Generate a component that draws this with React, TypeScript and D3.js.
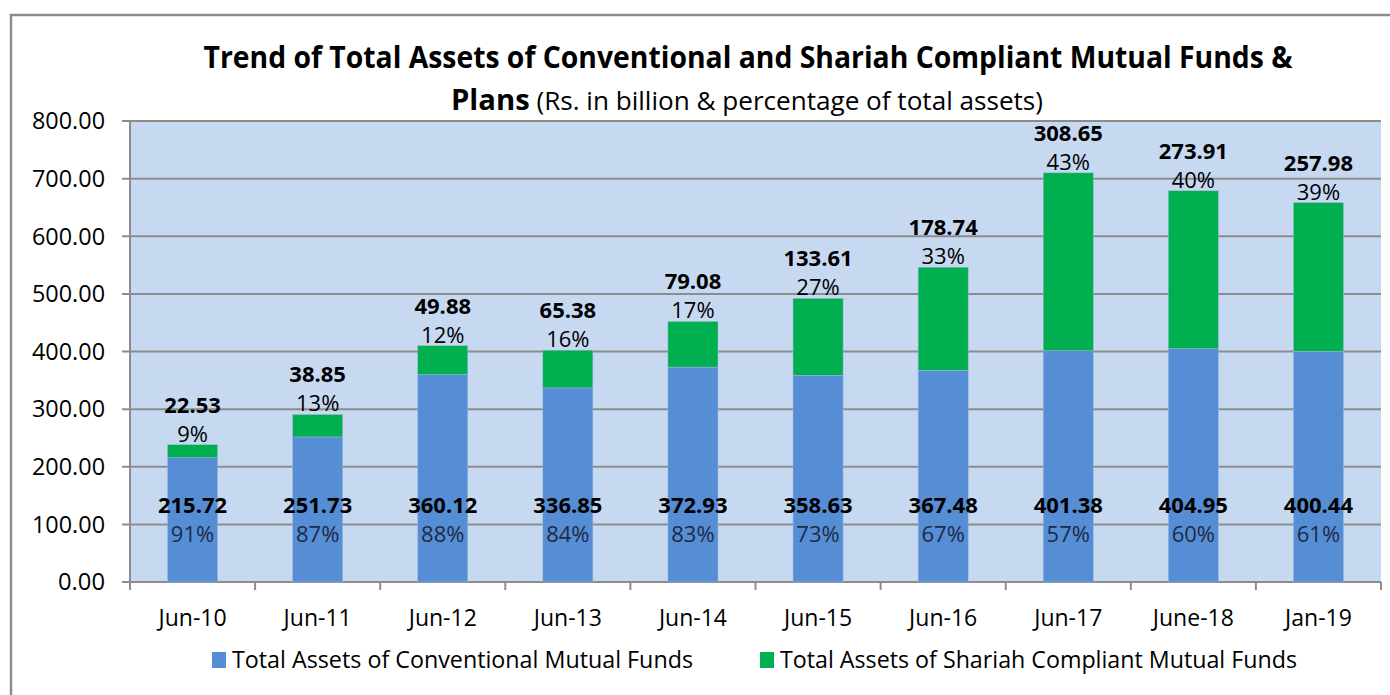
import React from "react";
import * as d3 from "d3";

const categories = ["Jun-10", "Jun-11", "Jun-12", "Jun-13", "Jun-14", "Jun-15", "Jun-16", "Jun-17", "June-18", "Jan-19"];
const conventional = [215.72, 251.73, 360.12, 336.85, 372.93, 358.63, 367.48, 401.38, 404.95, 400.44];
const shariah = [22.53, 38.85, 49.88, 65.38, 79.08, 133.61, 178.74, 308.65, 273.91, 257.98];
const conventionalPct = ["91%", "87%", "88%", "84%", "83%", "73%", "67%", "57%", "60%", "61%"];
const shariahPct = ["9%", "13%", "12%", "16%", "17%", "27%", "33%", "43%", "40%", "39%"];
const yTicks = [0, 100, 200, 300, 400, 500, 600, 700, 800];

const W = 1390;
const H = 695;
const plot = { left: 130, right: 1381, top: 121, bottom: 582 };
const BLUE = "#558ED5";
const GREEN = "#00B050";
const BG = "#C6D9F1";
const GRID = "#8C8C8C";
const FONT = "'Open Sans', sans-serif";

export default function App() {
  const x = d3
    .scaleBand<string>()
    .domain(categories)
    .range([plot.left, plot.right])
    .paddingInner(0.6)
    .paddingOuter(0.3);
  const xStep = d3.scaleBand<string>().domain(categories).range([plot.left, plot.right]);
  const y = d3.scaleLinear().domain([0, 800]).range([plot.bottom, plot.top]);

  const stackData = categories.map((c, i) => ({ cat: c, conv: conventional[i], shar: shariah[i] }));
  const series = d3.stack<any>().keys(["conv", "shar"])(stackData);
  const colors = [BLUE, GREEN];

  return (
    <svg width={W} height={H} style={{ position: "absolute", left: 0, top: 0, background: "#fff" }} fontFamily={FONT}>
      <rect x={11} y={15} width={W + 20} height={H + 20} fill="#fff" stroke="#8C8C8C" strokeWidth={2.5} />
      <text x={748} y={68} textAnchor="middle" fontSize={30} fontWeight="bold" textLength={1089} lengthAdjust="spacingAndGlyphs">
        Trend of Total Assets of Conventional and Shariah Compliant Mutual Funds &amp;
      </text>
      <text x={451} y={110} fontSize={25} textLength={592} lengthAdjust="spacingAndGlyphs">
        <tspan fontWeight="bold" fontSize={28}>Plans</tspan>
        <tspan> (Rs. in billion &amp; percentage of total assets)</tspan>
      </text>

      <rect x={plot.left} y={plot.top} width={plot.right - plot.left} height={plot.bottom - plot.top} fill={BG} />
      {yTicks.map((t) => (
        <g key={t}>
          <line x1={plot.left - 8} x2={plot.right} y1={y(t)} y2={y(t)} stroke={GRID} strokeWidth={2} />
          <text x={105} y={y(t)} dy="0.36em" textAnchor="end" fontSize={23} textLength={t === 0 ? 47 : 73} lengthAdjust="spacingAndGlyphs">
            {t.toFixed(2)}
          </text>
        </g>
      ))}
      <line x1={plot.left} x2={plot.left} y1={plot.top} y2={plot.bottom + 8} stroke={GRID} strokeWidth={2} />
      {categories.map((c) => (
        <line key={c} x1={(xStep(c) as number) + xStep.step()} x2={(xStep(c) as number) + xStep.step()} y1={plot.bottom} y2={plot.bottom + 8} stroke={GRID} strokeWidth={2} />
      ))}

      {series.map((s, si) =>
        s.map((d, i) => (
          <rect
            key={si + "-" + i}
            x={x(categories[i])}
            y={y(d[1])}
            width={x.bandwidth()}
            height={y(d[0]) - y(d[1])}
            fill={colors[si]}
            stroke="#9DB7DA"
            strokeWidth={0.5}
          />
        ))
      )}

      {categories.map((c, i) => {
        const cx = (x(c) as number) + x.bandwidth() / 2;
        const top = y(conventional[i] + shariah[i]);
        return (
          <g key={c} textAnchor="middle">
            <text x={cx} y={y(134)} dy="0.36em" fontSize={22} fontWeight="bold">
              {conventional[i].toFixed(2)}
            </text>
            <text x={cx} y={y(84)} dy="0.36em" fontSize={22} fill="#1F2A44">
              {conventionalPct[i]}
            </text>
            <text x={cx} y={top - 40} dy="0.36em" fontSize={22} fontWeight="bold">
              {shariah[i].toFixed(2)}
            </text>
            <text x={cx} y={top - 11} dy="0.36em" fontSize={22}>
              {shariahPct[i]}
            </text>
            <text x={cx} y={618} dy="0.36em" fontSize={23}>
              {c}
            </text>
          </g>
        );
      })}

      <rect x={212} y={652} width={14} height={16} fill={BLUE} />
      <text x={232} y={660} dy="0.36em" fontSize={23} textLength={461} lengthAdjust="spacingAndGlyphs">
        Total Assets of Conventional Mutual Funds
      </text>
      <rect x={760} y={652} width={14} height={16} fill={GREEN} />
      <text x={780} y={660} dy="0.36em" fontSize={23} textLength={517} lengthAdjust="spacingAndGlyphs">
        Total Assets of Shariah Compliant Mutual Funds
      </text>
    </svg>
  );
}
